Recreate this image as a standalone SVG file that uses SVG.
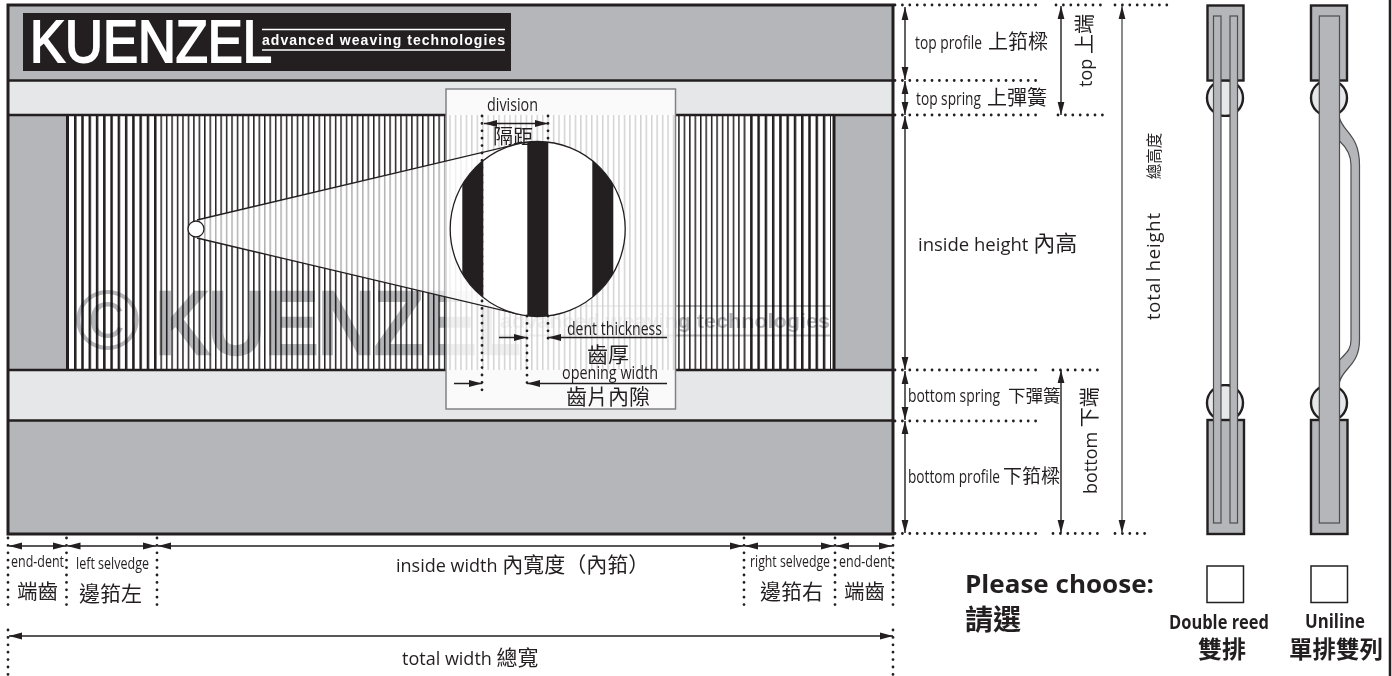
<svg xmlns="http://www.w3.org/2000/svg" width="1392" height="676" viewBox="0 0 1392 676">
<style>
text{font-family:"Open Sans","Noto Sans CJK TC",sans-serif;fill:#231f20;font-size:18px}
.cj{font-family:"Noto Sans CJK TC","Open Sans",sans-serif}
.ln{stroke:#231f20;stroke-width:2.5;fill:none}
.dim{stroke:#231f20;stroke-width:1.4;fill:none;marker-start:url(#as);marker-end:url(#ae)}
.dot{stroke:#231f20;stroke-width:2.8;stroke-linecap:round;stroke-dasharray:0 7.4;fill:none}
.g{fill:#b5b6b9}.l{fill:#e6e7e9}
.p{fill:#b5b6b9;stroke:#231f20;stroke-width:2.4}
.b{fill:#b5b6b9;stroke:#4d4d4f;stroke-width:1.2}
.wm{fill:#b5b6b9;mix-blend-mode:multiply}
.bd{font-weight:700}
</style>
<defs>
<marker id="ae" markerUnits="userSpaceOnUse" markerWidth="14" markerHeight="8" refX="13" refY="4" orient="auto"><path d="M0 .6L13 4L0 7.400z" fill="#231f20"/></marker>
<marker id="as" markerUnits="userSpaceOnUse" markerWidth="14" markerHeight="8" refX="0" refY="4" orient="auto"><path d="M13 .6L0 4L13 7.400z" fill="#231f20"/></marker>
<pattern id="wide" patternUnits="userSpaceOnUse" x="74" y="0" width="7.27" height="10"><rect width="2.5" height="10" fill="#231f20"/></pattern>
<pattern id="thin" patternUnits="userSpaceOnUse" x="155" y="0" width="5.45" height="10"><rect width="1.5" height="10" fill="#231f20"/></pattern>
<clipPath id="cc"><circle cx="537.7" cy="229" r="87.5"/></clipPath>
</defs>
<g id="frame">
<rect class="g" x="8" y="5" width="885" height="75"/>
<rect class="l" x="8" y="80" width="885" height="35"/>
<rect x="8" y="115" width="885" height="255" fill="#fff"/>
<rect class="g" x="8" y="115" width="58" height="255"/>
<rect class="g" x="835" y="115" width="58" height="255"/>
<rect class="l" x="8" y="370" width="885" height="50"/>
<rect class="g" x="8" y="420" width="885" height="114"/>
<rect x="74" y="115" width="81" height="255" fill="url(#wide)"/>
<rect x="155" y="115" width="590" height="255" fill="url(#thin)"/>
<rect x="745" y="115" width="86" height="255" fill="url(#wide)"/>
<rect x="66" y="115" width="3" height="255" fill="#231f20"/>
<rect x="832.5" y="115" width="3" height="255" fill="#231f20"/>
</g>
<g id="watermark">
<text class="wm" x="75" y="349" style="font-family:'Liberation Sans',sans-serif;font-size:85px" textLength="65" lengthAdjust="spacingAndGlyphs">©</text>
<text class="wm" x="155" y="353" style="font-family:'Liberation Sans',sans-serif;font-size:87px;stroke:#b5b6b9;stroke-width:4.5" textLength="365" lengthAdjust="spacingAndGlyphs">KUENZEL</text>
<text class="wm" x="500" y="328" style="font-family:'Liberation Sans',sans-serif;font-size:21px;font-weight:700" textLength="330" lengthAdjust="spacingAndGlyphs">advanced weaving technologies</text>
<rect class="wm" x="500" y="305" width="330" height="2"/>
<rect class="wm" x="500" y="334.500" width="330" height="2"/>
</g>
<rect x="8" y="5" width="885" height="529" class="ln" style="stroke-width:3"/>
<path class="ln" d="M8 80.500H893M8 115H66M835 115H893M66 115H446M675 115H835M8 370H446M675 370H893M8 420.500H893"/>
<g id="logo">
<rect x="23" y="13" width="488" height="58" fill="#231f20"/>
<text x="30" y="62" style="font-family:'Liberation Sans',sans-serif;font-size:60px;fill:#fff;stroke:#fff;stroke-width:2" textLength="242" lengthAdjust="spacingAndGlyphs">KUENZEL</text>
<path d="M262 29.500H505M262 50H505" stroke="#fff" stroke-width="1.600"/>
<text x="262" y="45" style="font-family:'Liberation Sans',sans-serif;font-size:14px;font-weight:700;fill:#fff" textLength="243">advanced weaving technologies</text>
</g>
<g id="inset">
<rect x="446" y="89" width="229.500" height="320" fill="#fff" fill-opacity=".8" stroke="#808285" stroke-width="1.500"/>
<path d="M197 220L518 144V314L197 238z" fill="#fff" fill-opacity=".65"/>
<path d="M197 220L518 144M197 238L518 314" stroke="#231f20" stroke-width="1.300" fill="none"/>
<circle cx="196" cy="229" r="8" fill="#fff" stroke="#231f20" stroke-width="1.300"/>
<circle cx="537.7" cy="229" r="87.5" fill="#fff"/>
<g clip-path="url(#cc)" fill="#231f20"><rect x="462.300" y="130" width="21" height="200"/><rect x="527.300" y="130" width="21" height="200"/><rect x="592.300" y="130" width="21" height="200"/></g>
<circle cx="537.7" cy="229" r="87.5" fill="none" stroke="#231f20" stroke-width="1.300"/>
</g>
<g id="connectors">
<path class="dot" d="M482 116V396M548 116V142M548 316V344M527 316V390"/>
<path class="dim" d="M484 123.500H548"/>
<path d="M499 337.500H527M548 337.500H667M454 383.500H482M527 383.500H667" stroke="#231f20" stroke-width="1.300"/>
<path d="M527 337.500l-13 -3.500v7zM548 337.500l13 -3.500v7zM482 383.500l-13 -3.500v7zM527 383.500l13 -3.500v7z" fill="#231f20"/>
<path class="dot" d="M895 5H1043M1056 5H1103M1115 5H1170M895 80.500H1043M895 115H1043M1058 115H1103M895 370H1043M1053 370H1103M895 421H1043M895 533.500H1043M1053 533.500H1103M1115 533.500H1150"/>
<path class="dim" d="M905 7V80"/><path class="dim" d="M905 81V115"/><path class="dim" d="M905 116V370"/><path class="dim" d="M905 371V420"/><path class="dim" d="M905 421V533"/>
<path class="dim" d="M1061 6V115"/><path class="dim" d="M1061 370V533"/>
<path class="dim" d="M1122 6V533" style="stroke:#58595b"/>
<path class="dot" d="M8 538V606M66.500 538V606M157 538V606M744 538V606M835 538V606M893 538V606M8 630V676M893 630V676"/>
<path class="dim" d="M9 546H66"/><path class="dim" d="M67.500 546H156"/><path class="dim" d="M158 546H743"/><path class="dim" d="M745 546H834"/><path class="dim" d="M836 546H892"/>
<path class="dim" d="M9 636H893"/>
</g>
<g id="labels">
<text x="487" y="111" textLength="51" lengthAdjust="spacingAndGlyphs">division</text>
<text class="cj" x="493" y="144" style="font-size:20px">隔距</text>
<text x="567" y="335" textLength="95" lengthAdjust="spacingAndGlyphs">dent thickness</text>
<text class="cj" x="587" y="362" style="font-size:21px">齒厚</text>
<text x="562" y="379" textLength="96" lengthAdjust="spacingAndGlyphs">opening width</text>
<text class="cj" x="566" y="404" style="font-size:21px">齒片內隙</text>
<text x="915" y="49"><tspan textLength="67" lengthAdjust="spacingAndGlyphs">top profile</tspan><tspan class="cj" dx="6" style="font-size:20px">上筘樑</tspan></text>
<text x="916" y="105"><tspan textLength="65" lengthAdjust="spacingAndGlyphs">top spring</tspan><tspan class="cj" dx="6" style="font-size:20px">上彈簧</tspan></text>
<text x="918" y="251" style="font-size:18.500px">inside height <tspan class="cj" style="font-size:22px">內高</tspan></text>
<text x="908" y="402"><tspan textLength="92" lengthAdjust="spacingAndGlyphs">bottom spring</tspan><tspan class="cj" dx="8" style="font-size:17.500px">下彈簧</tspan></text>
<text x="908" y="483"><tspan textLength="92" lengthAdjust="spacingAndGlyphs">bottom profile</tspan><tspan class="cj" dx="3" style="font-size:19px">下筘樑</tspan></text>
<text transform="translate(1092 87) rotate(-90)">top <tspan class="cj" style="font-size:20px">上端</tspan></text>
<text transform="translate(1097 494) rotate(-90)">bottom <tspan class="cj" style="font-size:20px">下端</tspan></text>
<text transform="translate(1160 320) rotate(-90)" style="font-size:18.500px"><tspan textLength="107">total height</tspan><tspan class="cj" dx="33" style="font-size:15.500px">總高度</tspan></text>
<text x="396" y="572">inside width <tspan class="cj" style="font-size:21px">內寬度（內筘）</tspan></text>
<text x="402" y="665">total width <tspan class="cj" style="font-size:21px">總寬</tspan></text>
<text x="11" y="567" style="font-size:16px" textLength="53" lengthAdjust="spacingAndGlyphs">end-dent</text>
<text x="76" y="569" style="font-size:16px" textLength="73" lengthAdjust="spacingAndGlyphs">left selvedge</text>
<text x="750" y="567" style="font-size:16px" textLength="80" lengthAdjust="spacingAndGlyphs">right selvedge</text>
<text x="839" y="567" style="font-size:16px" textLength="53" lengthAdjust="spacingAndGlyphs">end-dent</text>
<text class="cj" x="17" y="599" style="font-size:20.500px">端齒</text>
<text class="cj" x="79" y="601" style="font-size:21px">邊筘左</text>
<text class="cj" x="760" y="599" style="font-size:21px">邊筘右</text>
<text class="cj" x="844" y="599" style="font-size:20.500px">端齒</text>
</g>
<g id="double-reed">
<circle cx="1225" cy="98" r="18" class="l" stroke="#231f20" stroke-width="2.400"/>
<circle cx="1225" cy="403" r="18" class="l" stroke="#231f20" stroke-width="2.400"/>
<rect class="p" x="1207.500" y="5.500" width="36" height="75"/>
<rect class="p" x="1207.500" y="420" width="36.500" height="114"/>
<rect x="1221.500" y="116" width="8.500" height="269" fill="#fff"/>
<path d="M1221.500 116H1230M1221.500 385H1230" stroke="#231f20" stroke-width="2"/>
<rect class="b" x="1213.500" y="16" width="7.500" height="507"/>
<rect class="b" x="1230" y="16" width="7.500" height="507"/>
</g>
<g id="uniline">
<circle cx="1329" cy="98" r="18" class="l" stroke="#231f20" stroke-width="2.400"/>
<circle cx="1329" cy="403" r="18" class="l" stroke="#231f20" stroke-width="2.400"/>
<rect class="p" x="1311" y="5.500" width="36" height="75"/>
<rect class="p" x="1311" y="420" width="36.500" height="114"/>
<path class="b" d="M1339.500 118C1343 132 1359.500 135 1359.500 165V340C1359.500 365 1343 368 1339.500 382V360C1346 353 1351 350 1351 340V165C1351 155 1346 147 1339.500 141z"/>
<rect class="b" x="1319.300" y="16" width="20.200" height="507"/>
</g>
<g id="choose">
<text class="bd" x="965" y="593" style="font-size:25px" textLength="189" lengthAdjust="spacingAndGlyphs">Please choose:</text>
<text class="cj bd" x="965" y="630" style="font-size:28px">請選</text>
<rect x="1207" y="566" width="36.500" height="36.500" fill="#fff" stroke="#231f20" stroke-width="1.500"/>
<rect x="1311" y="566" width="36.500" height="36.500" fill="#fff" stroke="#231f20" stroke-width="1.500"/>
<text class="bd" x="1169" y="629" style="font-size:20px" textLength="100" lengthAdjust="spacingAndGlyphs">Double reed</text>
<text class="bd" x="1305" y="628" style="font-size:20px" textLength="60" lengthAdjust="spacingAndGlyphs">Uniline</text>
<text class="cj bd" x="1198" y="658" style="font-size:24px">雙排</text>
<text class="cj bd" x="1289" y="658" style="font-size:23.500px">單排雙列</text>
</g>
<path d="M1390 0V676" stroke="#231f20" stroke-width="2.500"/>
</svg>
